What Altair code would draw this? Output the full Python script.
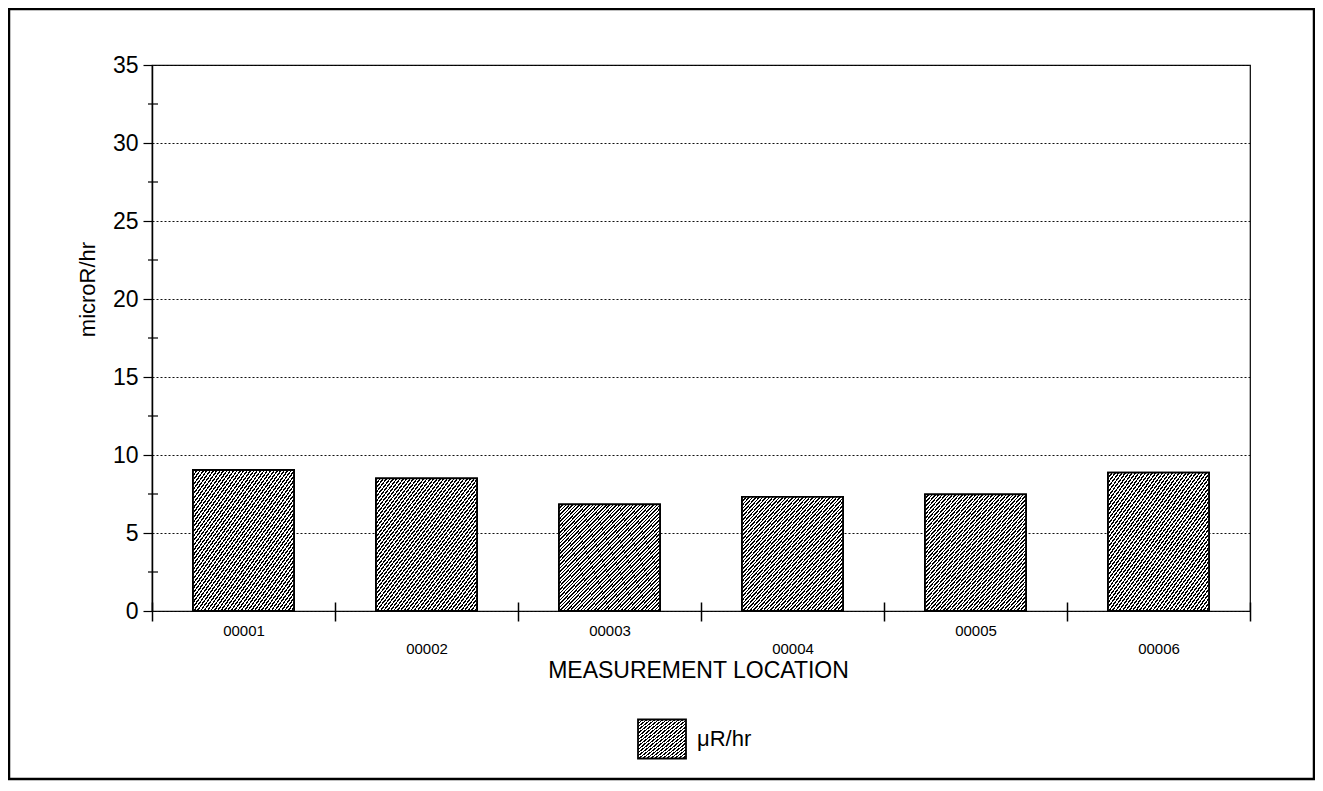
import altair as alt
import pandas as pd

# ---- data ----
locations = ["00001", "00002", "00003", "00004", "00005", "00006"]
values = [9.04, 8.5, 6.84, 7.31, 7.48, 8.87]
series_name = "μR/hr"
y_ticks = [0, 5, 10, 15, 20, 25, 30, 35]
y_minor_ticks = [2.5, 7.5, 12.5, 17.5, 22.5, 27.5, 32.5]
lower_labels = ["00002", "00004", "00006"]

df = pd.DataFrame({"location": locations, "value": values, "series": series_name})
minor_df = pd.DataFrame({"tick": y_minor_ticks})
frame_df = pd.DataFrame({"frame": [0]})

FONT = "Liberation Sans"


def hatch_stops(n, frac=0.45):
    stops = []
    for i in range(n):
        a = i / n
        b = (i + frac) / n
        c = (i + 1) / n
        stops += [(a, "#000000"), (b, "#000000"), (b, "#ffffff"), (c, "#ffffff")]
    return stops


def hatch_dict(n):
    return {
        "gradient": "linear",
        "x1": 0, "y1": 0, "x2": 1, "y2": 1,
        "stops": [{"offset": round(o, 5), "color": col} for o, col in hatch_stops(n)],
    }


def hatch_expr(n):
    parts = ",".join(
        "{offset:%s,color:'%s'}" % (round(o, 5), col) for o, col in hatch_stops(n)
    )
    return "{gradient:'linear',x1:0,y1:0,x2:1,y2:1,stops:[%s]}" % parts


x_enc = alt.X(
    "location:N",
    sort=locations,
    scale=alt.Scale(paddingInner=0, paddingOuter=0),
    axis=alt.Axis(
        title="MEASUREMENT LOCATION",
        titleFont=FONT, titleFontSize=23, titleFontWeight="normal", titleColor="black",
        titleX=546, titleY=75, titleBaseline="alphabetic", titleAlign="center",
        labelFont=FONT, labelFontSize=15, labelColor="black", labelAngle=0,
        labelPadding=2, labelLineHeight=18, labelBaseline="top",
        labelExpr="indexof(" + str(lower_labels) + ", datum.value) >= 0 ? ['', datum.label] : datum.label",
        tickBand="extent", tickSize=19, tickColor="black", tickWidth=1.5,
        domain=False, offset=-9, grid=False,
    ),
)

y_scale = alt.Scale(domain=[0, 35], nice=False, zero=True)
y_enc = alt.Y(
    "value:Q",
    scale=y_scale,
    axis=alt.Axis(
        title="microR/hr",
        titleFont=FONT, titleFontSize=22, titleFontWeight="normal", titleColor="black",
        titleX=-65, titleY=224, titleAngle=270, titleBaseline="middle", titleAlign="center",
        values=y_ticks,
        labelFont=FONT, labelFontSize=23, labelColor="black", labelPadding=5,
        tickSize=9, tickColor="black", tickWidth=1.2,
        domainColor="black", domainWidth=1.5,
        grid=True, gridColor="#111111", gridDash=[2, 2], gridWidth=1,
    ),
)

bar_width = alt.RelativeBandSize(0.552)

legend_bars = alt.Chart(df).mark_bar(
    width=bar_width, stroke="black", strokeWidth=1.8
).encode(
    x=x_enc,
    y=y_enc,
    fill=alt.Fill(
        "series:N",
        scale=alt.Scale(domain=[series_name], range=[{"expr": hatch_expr(24)}]),
        legend=alt.Legend(
            title=None, orient="none", legendX=485, legendY=649,
            symbolType="M-1,-0.8125L1,-0.8125L1,0.8125L-1,0.8125Z",
            symbolSize=2304, symbolStrokeColor="black", symbolStrokeWidth=1.8,
            labelFont=FONT, labelFontSize=22, labelColor="black", labelOffset=10,
            padding=0,
        ),
    ),
)

bars = alt.Chart(df).mark_bar(
    width=bar_width, stroke="black", strokeWidth=1.8, fill=hatch_dict(60)
).encode(x=x_enc, y=y_enc)

minor = alt.Chart(minor_df).mark_rule(color="black", strokeWidth=1.2).encode(
    y=alt.Y("tick:Q", scale=y_scale),
    x=alt.value(-4),
    x2=alt.value(6),
)

frame = alt.Chart(frame_df).mark_rect(
    filled=False, stroke="black", strokeWidth=2.5
).encode(
    x=alt.value(-143), x2=alt.value(1162), y=alt.value(-56), y2=alt.value(714)
)

chart = alt.layer(legend_bars, bars, minor, frame).properties(
    width=1098,
    height=546,
    autosize=alt.AutoSizeParams(type="none"),
    padding={"left": 144, "top": 57, "right": 65, "bottom": 170},
    background="white",
).configure_view(
    stroke="black", strokeWidth=1.2
)

chart.save("out.html", embed_options={"renderer": "svg", "actions": False})
